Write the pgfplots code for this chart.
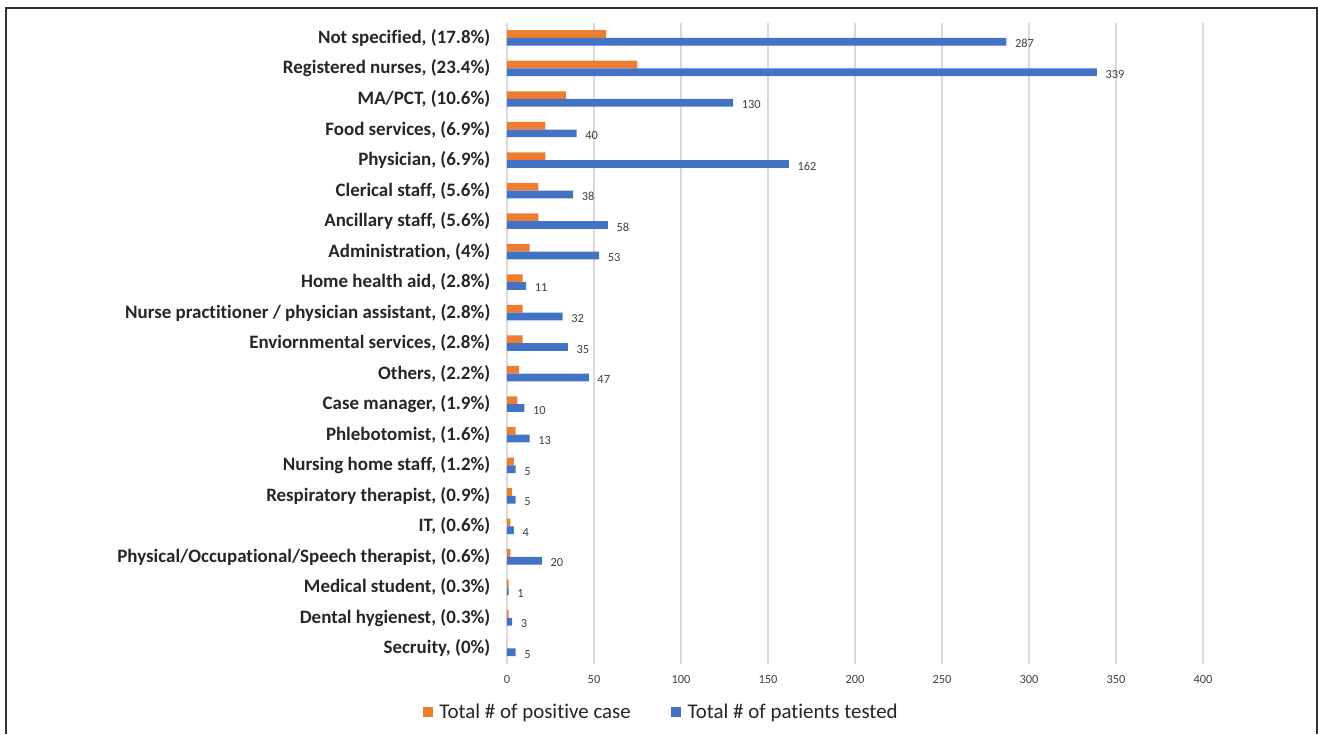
\documentclass[border=0pt]{standalone}
\usepackage{fontspec}
\setmainfont{Carlito}[Ligatures={NoCommon}]
\usepackage{pgfplots}
\pgfplotsset{compat=1.18}
\definecolor{exor}{HTML}{ED7D31}
\definecolor{exbl}{HTML}{4472C4}
\definecolor{gridc}{HTML}{D9D9D9}
\definecolor{txt}{HTML}{262626}
\definecolor{tick}{HTML}{404040}
\begin{document}
\begin{tikzpicture}
\path (0pt,0pt) rectangle (988.5pt,-550.5pt);
\draw[line width=1.2pt,color=black!80] (4.5pt,-550.5pt) -- (4.5pt,-6pt) -- (987.75pt,-6pt) -- (987.75pt,-550.5pt);
\begin{axis}[
  at={(380.25pt,-17pt)}, anchor=north west,
  scale only axis, width=522pt, height=480.75pt,
  xmin=0, xmax=400, ymin=-0.5, ymax=20.5, y dir=reverse,
  xtick={0,50,...,400},
  ytick={0,...,20},
  yticklabels={{Not specified, (17.8\%)},{Registered nurses, (23.4\%)},{MA/PCT, (10.6\%)},{Food services, (6.9\%)},{Physician, (6.9\%)},{Clerical staff, (5.6\%)},{Ancillary staff, (5.6\%)},{Administration, (4\%)},{Home health aid, (2.8\%)},{Nurse practitioner / physician assistant, (2.8\%)},{Enviornmental services, (2.8\%)},{Others, (2.2\%)},{Case manager, (1.9\%)},{Phlebotomist, (1.6\%)},{Nursing home staff, (1.2\%)},{Respiratory therapist, (0.9\%)},{IT, (0.6\%)},{Physical/Occupational/Speech therapist, (0.6\%)},{Medical student, (0.3\%)},{Dental hygienest, (0.3\%)},{Secruity, (0\%)}},
  yticklabel style={font=\fontsize{14.2}{16}\selectfont\bfseries, text=txt, xshift=-9pt},
  xticklabel style={font=\fontsize{9.3}{10}\selectfont, text=tick, yshift=-5pt},
  /pgf/number format/assume math mode=true,
  axis line style={draw=none},
  major tick length=0pt,
  xmajorgrids, grid style={gridc, line width=0.8pt},
  xbar, bar width=5.8pt,
  legend style={at={(0.222,-0.075)}, anchor=center, draw=none, legend columns=2,
     font=\fontsize{15.7}{17}\selectfont, text=txt,
     /tikz/every odd column/.append style={column sep=3pt},
     /tikz/every even column/.append style={column sep=28pt}},
  legend cell align=left,
  clip=false,
]
\addplot[draw=none, fill=exor, bar shift=2.9pt,
  legend image code/.code={\fill[exor] (0pt,-3.75pt) rectangle (7.5pt,3.75pt);}]
coordinates {(57,0) (75,1) (34,2) (22,3) (22,4) (18,5) (18,6) (13,7) (9,8) (9,9) (9,10) (7,11) (6,12) (5,13) (4,14) (3,15) (2,16) (2,17) (1,18) (1,19) (0,20)};
\addlegendentry{Total \# of positive case}
\addplot[draw=none, fill=exbl, bar shift=-2.9pt,
  nodes near coords, every node near coord/.append style={font=\fontsize{9.3}{10}\selectfont, text=tick, anchor=west, xshift=3pt, yshift=-1.5pt},
  legend image code/.code={\fill[exbl] (0pt,-3.75pt) rectangle (7.5pt,3.75pt);}]
coordinates {(287,0) (339,1) (130,2) (40,3) (162,4) (38,5) (58,6) (53,7) (11,8) (32,9) (35,10) (47,11) (10,12) (13,13) (5,14) (5,15) (4,16) (20,17) (1,18) (3,19) (5,20)};
\addlegendentry{Total \# of patients tested}
\end{axis}
\end{tikzpicture}
\end{document}
